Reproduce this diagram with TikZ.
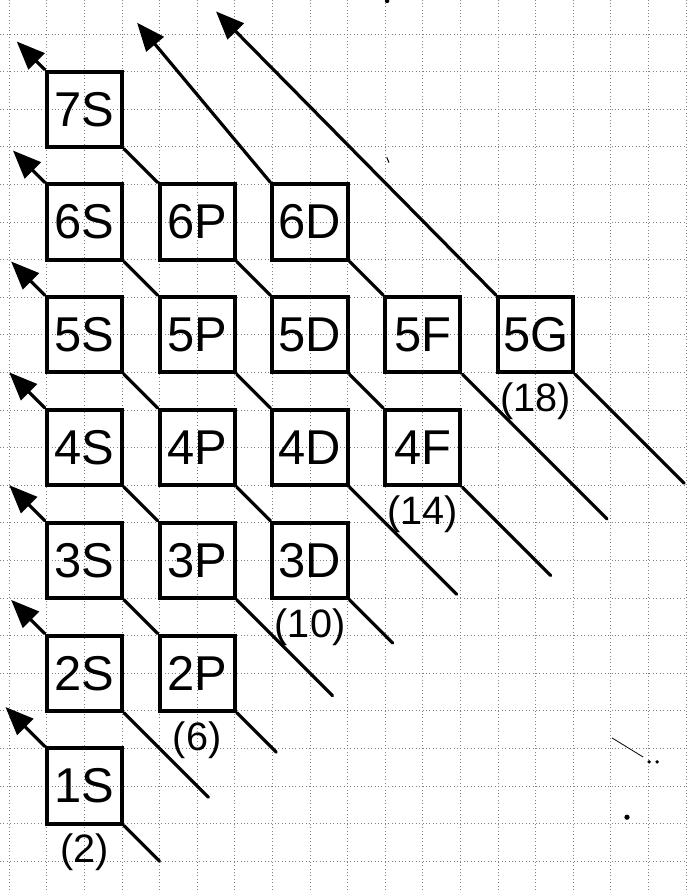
\documentclass[tikz,border=0pt]{standalone}
\usepackage{fontspec}
\setmainfont{Liberation Sans}
\usetikzlibrary{arrows.meta,positioning}

\begin{document}
\begin{tikzpicture}[
    box/.style={rectangle, draw, line width=3pt, minimum size=2cm,
                inner sep=0pt, font=\fontsize{37}{40}\selectfont},
    count/.style={inner sep=0pt, font=\fontsize{30}{32}\selectfont},
    diag/.style={line width=2.4pt, line cap=round},
    arrow/.style={diag, -{Triangle[length=7.5mm, width=6mm]}},
    paper/.style={dotted, black!50, line width=0.6pt}
]
\useasboundingbox (-0.245,-0.766) rectangle (18.026,22.904);
\draw[paper] (-0.245,-0.766) grid (18.026,22.904);

% shells 1 and 2
\node[box] (S1) at (2,2) {1S};
\node[box] (S2) at (2,5) {2S};
\node[box] (P2) at (5,5) {2P};
% shell 3
\node[box] (S3) at (2,8) {3S};
\node[box] (P3) at (5,8) {3P};
\node[box] (D3) at (8,8) {3D};
% shell 4
\node[box] (S4) at (2,11) {4S};
\node[box] (P4) at (5,11) {4P};
\node[box] (D4) at (8,11) {4D};
\node[box] (F4) at (11,11) {4F};
% shell 5
\node[box] (S5) at (2,14) {5S};
\node[box] (P5) at (5,14) {5P};
\node[box] (D5) at (8,14) {5D};
\node[box] (F5) at (11,14) {5F};
\node[box] (G5) at (14,14) {5G};
% shells 6 and 7
\node[box] (S6) at (2,17) {6S};
\node[box] (P6) at (5,17) {6P};
\node[box] (D6) at (8,17) {6D};
\node[box] (S7) at (2,20) {7S};

% capacities
\node[count, below=0.22cm of S1] (N1) {(2)};
\node[count, below=0.22cm of P2] (N2) {(6)};
\node[count, below=0.22cm of D3] (N3) {(10)};
\node[count, below=0.22cm of F4] (N4) {(14)};
\node[count, below=0.22cm of G5] (N5) {(18)};

% ends of the diagonals
\coordinate (t1) at (4,0);        \coordinate (a1) at (-0.1,4.1);
\coordinate (t2) at (5.3,1.7);    \coordinate (a2) at (0.05,6.95);
\coordinate (t3) at (7.1,2.9);    \coordinate (a3) at (0,10);
\coordinate (t4) at (8.6,4.4);    \coordinate (a4) at (0,13);
\coordinate (t5) at (10.2,5.8);   \coordinate (a5) at (0.05,15.95);
\coordinate (t6) at (11.9,7.1);   \coordinate (a6) at (0.1,18.9);
\coordinate (t7) at (14.4,7.6);   \coordinate (a7) at (0.2,21.8);
\coordinate (t8) at (15.9,9.1);   \coordinate (a8) at (3.4,22.3);
\coordinate (t9) at (17.95,10.05); \coordinate (a9) at (5.5,22.6);

% filling order
\draw[arrow] (t1) -- (S1.south east) (S1.north west) -- (a1);
\draw[arrow] (t2) -- (S2.south east) (S2.north west) -- (a2);
\draw[arrow] (t3) -- (P2.south east) (P2.north west) -- (S3.south east)
    (S3.north west) -- (a3);
\draw[arrow] (t4) -- (P3.south east) (P3.north west) -- (S4.south east)
    (S4.north west) -- (a4);
\draw[arrow] (t5) -- (D3.south east) (D3.north west) -- (P4.south east)
    (P4.north west) -- (S5.south east) (S5.north west) -- (a5);
\draw[arrow] (t6) -- (D4.south east) (D4.north west) -- (P5.south east)
    (P5.north west) -- (S6.south east) (S6.north west) -- (a6);
\draw[arrow] (t7) -- (F4.south east) (F4.north west) -- (D5.south east)
    (D5.north west) -- (P6.south east) (P6.north west) -- (S7.south east)
    (S7.north west) -- (a7);
\draw[arrow] (t8) -- (F5.south east) (F5.north west) -- (D6.south east)
    (D6.north west) -- (a8);
\draw[arrow] (t9) -- (G5.south east) (G5.north west) -- (a9);

% specks on the paper
\fill (10.05,22.88) circle (0.06);
\draw[line width=0.8pt] (10.04,18.72) -- (10.1,18.58);
\draw[line width=0.6pt] (16.03,3.28) -- (16.86,2.77);
\fill (17.02,2.64) circle (0.05);
\fill (17.23,2.64) circle (0.05);
\fill (16.43,1.17) circle (0.07);
\end{tikzpicture}
\end{document}
